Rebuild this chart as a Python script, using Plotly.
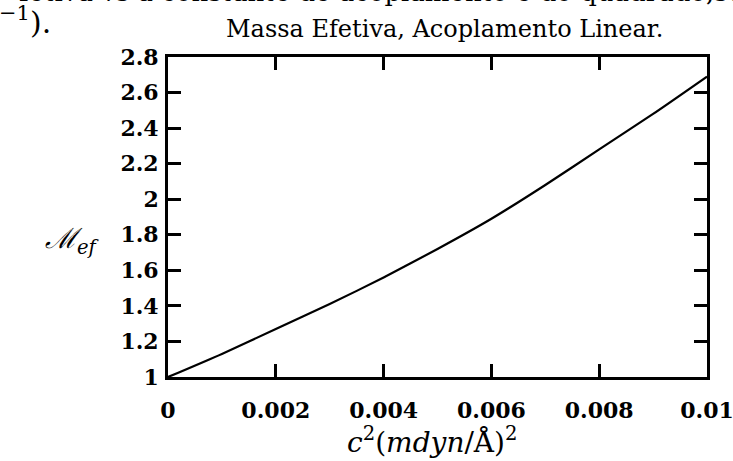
import plotly.graph_objects as go

# Effective mass vs. squared coupling constant (linear coupling)
c2 = [0.0, 0.001, 0.002, 0.003, 0.004, 0.005, 0.006, 0.007, 0.008, 0.009, 0.01]
m_ef = [1.0, 1.13, 1.27, 1.41, 1.56, 1.72, 1.89, 2.08, 2.28, 2.48, 2.69]

x_ticks = [0.0, 0.002, 0.004, 0.006, 0.008, 0.01]
x_tick_text = ["0", "0.002", "0.004", "0.006", "0.008", "0.01"]
y_ticks = [1.0, 1.2, 1.4, 1.6, 1.8, 2.0, 2.2, 2.4, 2.6, 2.8]
y_tick_text = ["1", "1.2", "1.4", "1.6", "1.8", "2", "2.2", "2.4", "2.6", "2.8"]

serif = "DejaVu Serif"

fig = go.Figure()
fig.add_trace(go.Scatter(
    x=c2, y=m_ef, mode="lines",
    line=dict(color="black", width=2.2, shape="spline", smoothing=0.6),
    showlegend=False, hoverinfo="skip",
))

axis_common = dict(
    showgrid=False, zeroline=False, showline=True, linecolor="black", linewidth=2.8,
    mirror="ticks", ticks="inside", ticklen=13, tickwidth=2.5, tickcolor="black",
    ticklabeloverflow="allow", automargin=False,
)

fig.update_xaxes(range=[0, 0.0100001], tickvals=x_ticks, ticktext=x_tick_text,
                 ticklabelstandoff=12,
                 tickfont=dict(family=serif, size=22, color="black", weight="bold"),
                 **axis_common)
fig.update_yaxes(range=[1, 2.8000001], tickvals=y_ticks, ticktext=y_tick_text,
                 ticklabelstandoff=2,
                 tickfont=dict(family=serif, size=22, color="black", weight="bold"),
                 **axis_common)

W, H = 733, 461
l, r, t, b = 168, 26, 57, 84
pw, ph = W - l - r, H - t - b


def px(xp):
    return (xp - l) / pw


def py(yp):
    return (H - b - yp) / ph


def label(text, xp, yp, size, xanchor="center"):
    return dict(text=text, x=px(xp), y=py(yp), xref="paper", yref="paper",
                xanchor=xanchor, yanchor="middle", showarrow=False,
                font=dict(family=serif, size=size, color="black"))


fig.update_layout(
    width=W, height=H,
    margin=dict(l=l, r=r, t=t, b=b),
    paper_bgcolor="white", plot_bgcolor="white",
    font=dict(family=serif, color="black"),
    annotations=[
        label("Massa Efetiva, Acoplamento Linear.", 444, 29, 24),
        label("fetiva vs a constante de acoplamento e do quadrado,se", 745, -8, 26,
              xanchor="right"),
        label("<sup>−1</sup>).", -3, 21, 30, xanchor="left"),
        label("<i>ℳ</i><sub><i>ef</i></sub>", 72, 240, 28),
        label("<i>c</i><sup>2</sup>(<i>mdyn</i>/Å)<sup>2</sup>", 432, 440, 28),
    ],
)

fig.write_html("out.html")
